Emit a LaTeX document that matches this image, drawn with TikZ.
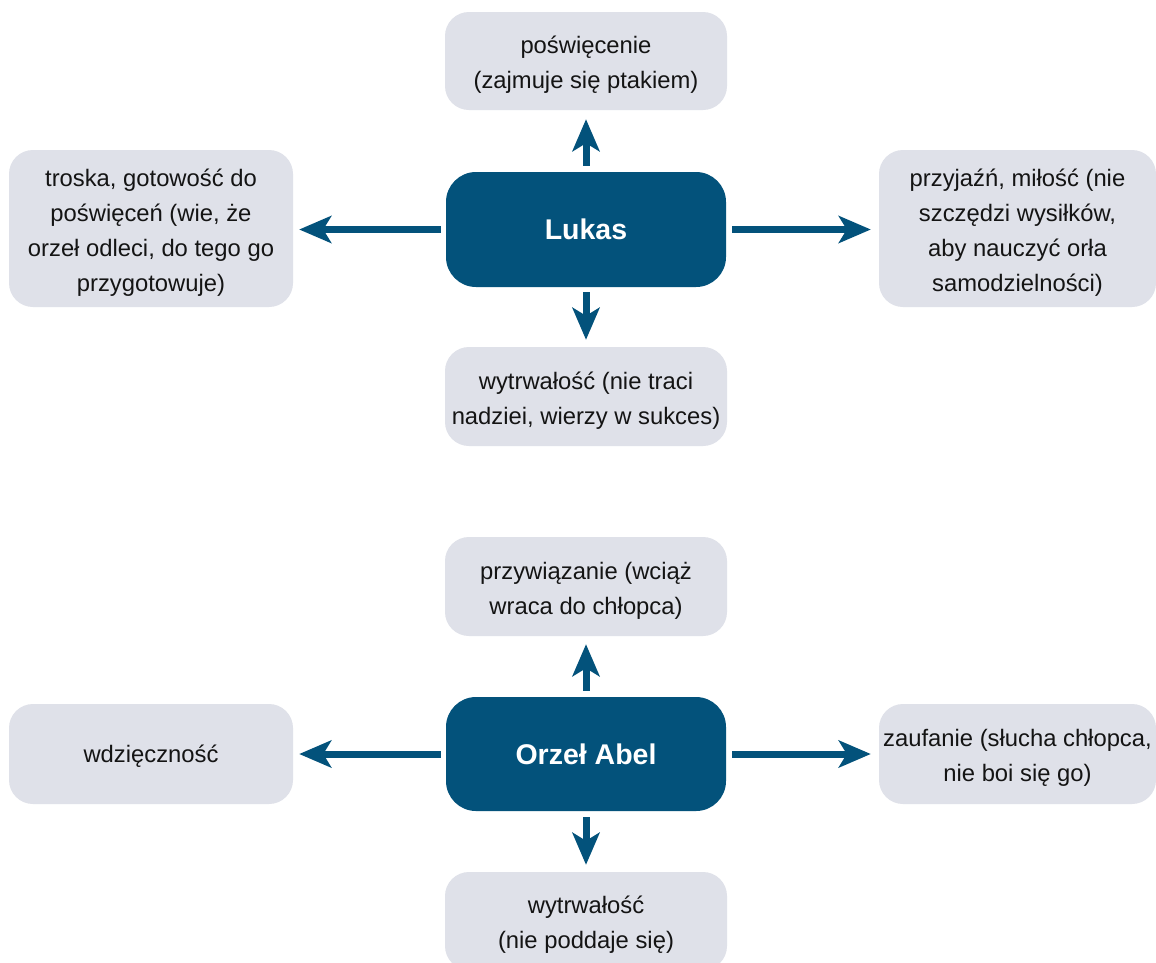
\documentclass[tikz,border=0pt]{standalone}
\usepackage{fontspec}
\setmainfont{Liberation Sans}
\usetikzlibrary{arrows.meta}
\definecolor{darkblue}{RGB}{3,82,123}
\definecolor{lightbox}{RGB}{223,225,233}
\definecolor{txt}{RGB}{20,20,20}
\tikzset{
  x=1pt, y=-1pt,
  soft/.style={fill=lightbox, draw=none, rounded corners=24pt, inner sep=0pt},
  softtext/.style={align=center, text=txt, font=\fontsize{23.8}{35}\selectfont, inner sep=0pt},
  main/.style={fill=darkblue, draw=none, rounded corners=30pt, align=center, text=white,
    font=\fontsize{28.5}{34}\selectfont\bfseries, inner sep=0pt, minimum width=280pt, minimum height=115pt},
  arr/.style={draw=darkblue, line width=7pt, -{Stealth[length=32pt, width=27pt, inset=8pt]}}
}
\begin{document}
\begin{tikzpicture}
\useasboundingbox (0,0) rectangle (1156,962);
\clip (0,0) rectangle (1156,962);
\fill[white] (0,0) rectangle (1156,962);
% group 1
\node[soft, minimum width=282pt, minimum height=98pt] (p1) at (586,61) {};
\node[softtext] (p1t) at ([yshift=-4pt]p1.center) {poświęcenie\\(zajmuje się ptakiem)};
\node[main] (lukas) at (586,229.5) {Lukas};
\node[soft, minimum width=284pt, minimum height=157pt] (l1) at (151,228.5) {};
\node[softtext] (l1t) at ([yshift=-4pt]l1.center) {troska, gotowość do\\poświęceń (wie, że\\orzeł odleci, do tego go\\przygotowuje)};
\node[soft, minimum width=277pt, minimum height=157pt] (r1) at (1017.5,228.5) {};
\node[softtext] (r1t) at ([yshift=-4pt]r1.center) {przyjaźń, miłość (nie\\szczędzi wysiłków,\\aby nauczyć orła\\samodzielności)};
\node[soft, minimum width=282pt, minimum height=99pt] (d1) at (586,396.5) {};
\node[softtext] (d1t) at ([yshift=-4pt]d1.center) {wytrwałość (nie traci\\nadziei, wierzy w sukces)};
\draw[arr, shorten <=6pt, shorten >=9pt] (lukas.north) -- (p1.south);
\draw[arr, shorten <=5pt, shorten >=7pt] (lukas.south) -- (d1.north);
\draw[arr, shorten <=5pt, shorten >=6pt] (lukas.west) -- (l1.east |- lukas.west);
\draw[arr, shorten <=6pt, shorten >=8pt] (lukas.east) -- (r1.west |- lukas.east);
% group 2
\node[soft, minimum width=282pt, minimum height=99pt] (p2) at (586,586.5) {};
\node[softtext] (p2t) at ([yshift=-4pt]p2.center) {przywiązanie (wciąż\\wraca do chłopca)};
\node[main, minimum height=114pt] (orzel) at (586,754) {Orzeł Abel};
\node[soft, minimum width=284pt, minimum height=100pt] (l2) at (151,754) {};
\node[softtext] (l2t) at ([yshift=-2pt]l2.center) {wdzięczność};
\node[soft, minimum width=277pt, minimum height=100pt] (r2) at (1017.5,754) {};
\node[softtext] (r2t) at ([yshift=-4pt]r2.center) {zaufanie (słucha chłopca,\\nie boi się go)};
\node[soft, minimum width=282pt, minimum height=98pt] (d2) at (586,921) {};
\node[softtext] (d2t) at ([yshift=-4pt]d2.center) {wytrwałość\\(nie poddaje się)};
\draw[arr, shorten <=6pt, shorten >=8pt] (orzel.north) -- (p2.south);
\draw[arr, shorten <=6pt, shorten >=7pt] (orzel.south) -- (d2.north);
\draw[arr, shorten <=5pt, shorten >=6pt] (orzel.west) -- (l2.east);
\draw[arr, shorten <=6pt, shorten >=8pt] (orzel.east) -- (r2.west);
\end{tikzpicture}
\end{document}
